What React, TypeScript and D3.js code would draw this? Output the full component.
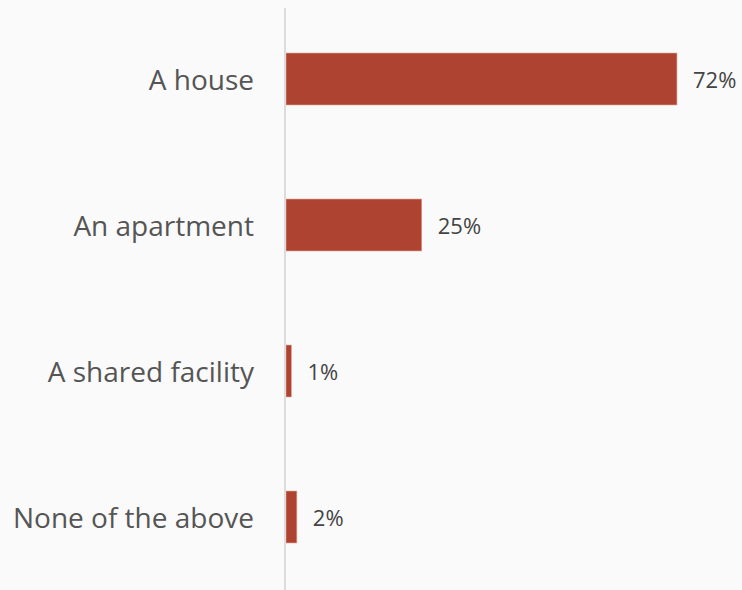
import React from "react";
import * as d3 from "d3";

const categories = ["A house", "An apartment", "A shared facility", "None of the above"];
const values = [72, 25, 1, 2];

const W = 742;
const H = 590;

export default function App() {
  const x = d3.scaleLinear().domain([0, 100]).range([286, 829]);
  const y = d3
    .scaleBand<string>()
    .domain(categories)
    .range([6, 590])
    .paddingInner(0.644)
    .paddingOuter(0.322);

  return (
    <svg
      width={W}
      height={H}
      style={{ position: "absolute", left: 0, top: 0, background: "#fafafa" }}
      fontFamily="'Open Sans', 'Noto Sans', sans-serif"
    >
      <rect x={0} y={0} width={W} height={H} fill="#fafafa" />
      {categories.map((c, i) => {
        const yy = y(c)!;
        const bw = y.bandwidth();
        return (
          <g key={c}>
            <rect
              x={x(0)}
              y={yy}
              width={x(values[i]) - x(0)}
              height={bw}
              fill="#ae4332"
              stroke="#e3a59b"
              strokeWidth={0.6}
            />
            <text
              x={254}
              y={yy + bw / 2}
              textAnchor="end"
              dominantBaseline="central"
              fontSize={28}
              fill="#555555"
            >
              {c}
            </text>
            <text
              x={x(values[i]) + 16}
              y={yy + bw / 2}
              dominantBaseline="central"
              fontSize={22}
              fill="#444444"
            >
              {values[i]}%
            </text>
          </g>
        );
      })}
      <line x1={285} x2={285} y1={8} y2={H} stroke="#dcdcdc" strokeWidth={2} />
    </svg>
  );
}
